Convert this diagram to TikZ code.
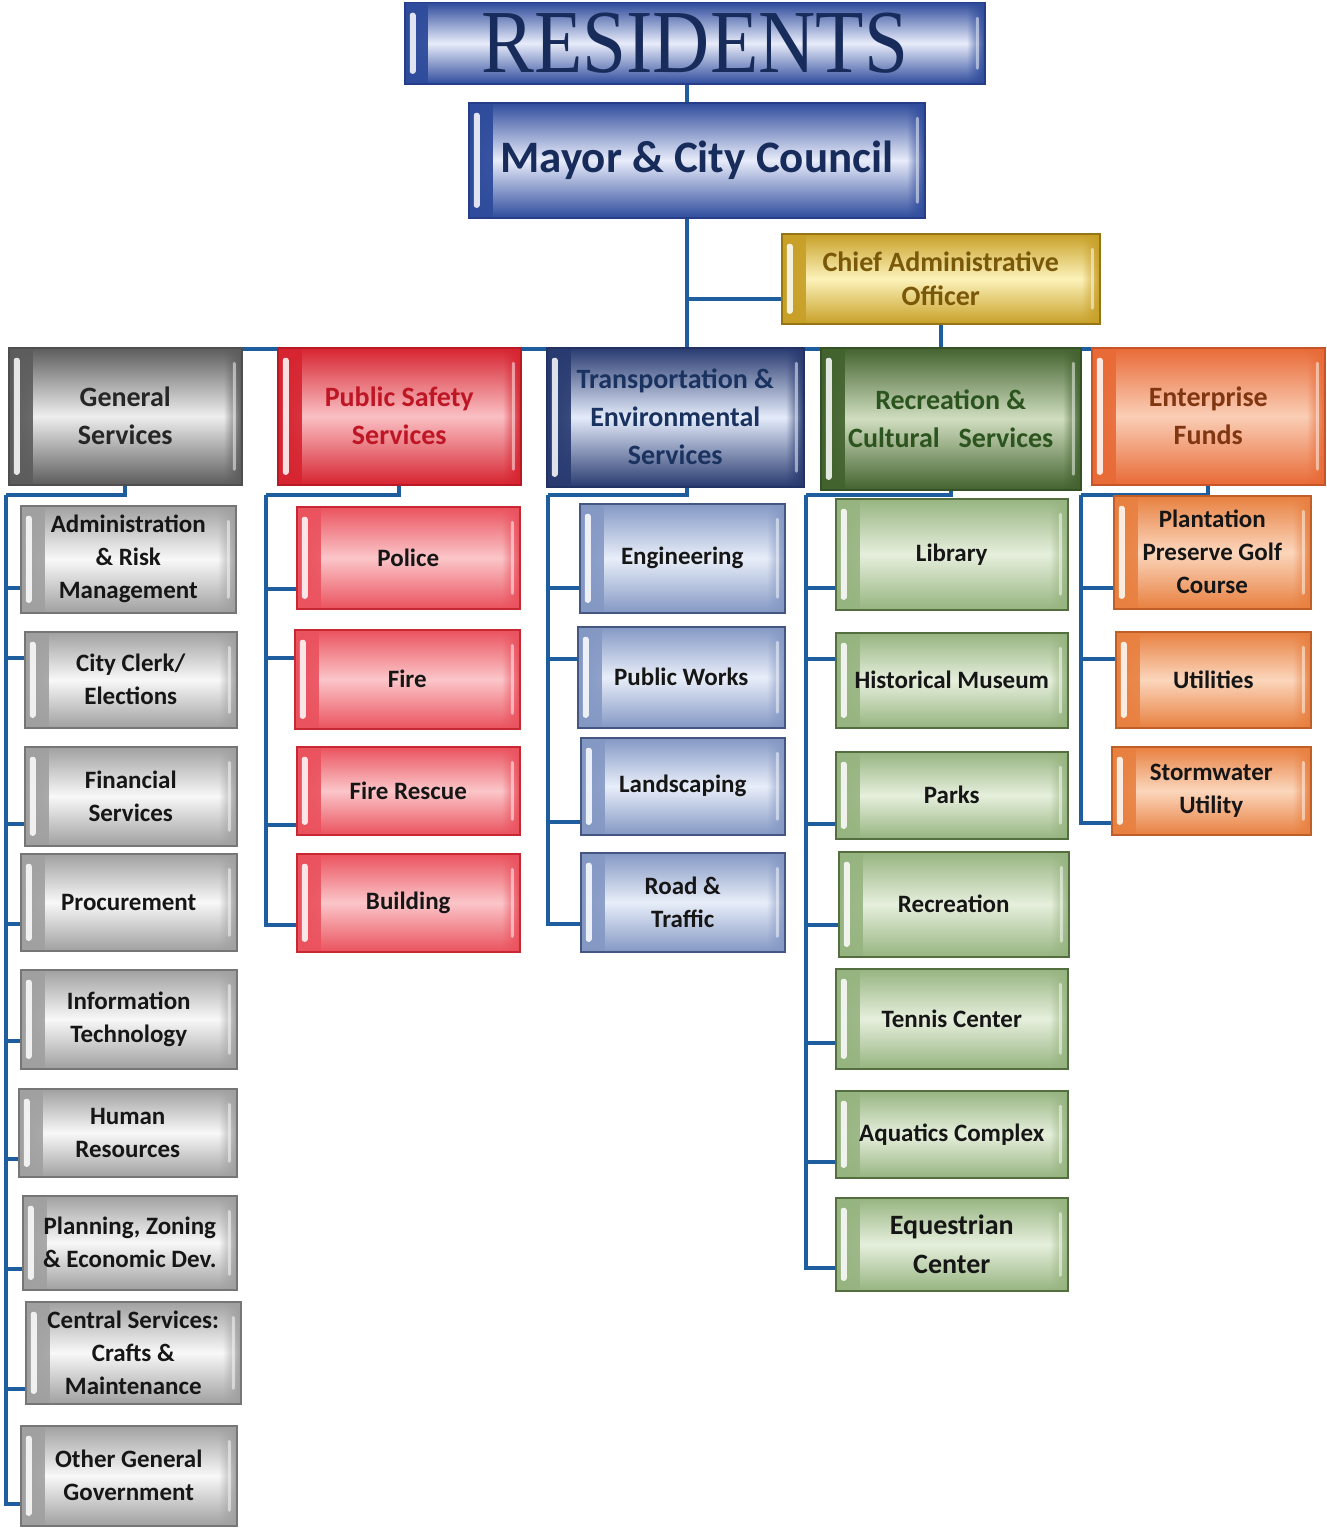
\documentclass[tikz,border=0pt]{standalone}
\usepackage{fontspec}
\usepackage{graphicx}
\setmainfont{Carlito}
\newfontfamily\resfont{Liberation Serif}
\usetikzlibrary{calc,fadings,backgrounds}

\definecolor{wireblue}{RGB}{31,94,158}
\definecolor{navytext}{RGB}{24,44,92}
\definecolor{topD}{RGB}{47,76,156}    \definecolor{topL}{RGB}{232,236,250}  \definecolor{topB}{RGB}{38,62,138}
\definecolor{caoD}{RGB}{200,160,40}   \definecolor{caoL}{RGB}{252,242,185}  \definecolor{caoB}{RGB}{150,118,20}
\definecolor{gsD}{RGB}{92,92,92}      \definecolor{gsL}{RGB}{238,238,238}   \definecolor{gsB}{RGB}{78,78,78}
\definecolor{psD}{RGB}{214,36,48}     \definecolor{psL}{RGB}{250,192,196}   \definecolor{psB}{RGB}{185,25,35}
\definecolor{teD}{RGB}{40,58,112}     \definecolor{teL}{RGB}{228,235,250}   \definecolor{teB}{RGB}{34,50,98}
\definecolor{rcD}{RGB}{66,98,46}      \definecolor{rcL}{RGB}{208,222,192}   \definecolor{rcB}{RGB}{52,82,38}
\definecolor{efD}{RGB}{232,106,54}    \definecolor{efL}{RGB}{250,206,182}   \definecolor{efB}{RGB}{198,84,40}
\definecolor{gsubD}{RGB}{160,160,160} \definecolor{gsubL}{RGB}{248,248,248} \definecolor{gsubB}{RGB}{118,118,118}
\definecolor{psubD}{RGB}{234,82,94}   \definecolor{psubL}{RGB}{251,198,201} \definecolor{psubB}{RGB}{200,40,50}
\definecolor{tsubD}{RGB}{132,152,196} \definecolor{tsubL}{RGB}{232,238,249} \definecolor{tsubB}{RGB}{70,86,130}
\definecolor{rsubD}{RGB}{150,180,128} \definecolor{rsubL}{RGB}{230,239,220} \definecolor{rsubB}{RGB}{84,110,64}
\definecolor{esubD}{RGB}{232,128,64}  \definecolor{esubL}{RGB}{251,214,188} \definecolor{esubB}{RGB}{192,94,40}

\tikzset{
  wire/.style={draw=wireblue, line width=4pt},
  bevel/.style n args={3}{anchor=north west, inner sep=0pt, align=center, draw=#3, line width=1.5pt,
    top color=#1, bottom color=#1, middle color=#2,
    path picture={
      \fill[#1, path fading=east] (path picture bounding box.south west) rectangle ([xshift=24pt]path picture bounding box.north west);
      \fill[#1, path fading=west] ([xshift=-18pt]path picture bounding box.south east) rectangle (path picture bounding box.north east);
      \fill[white, opacity=.85, rounded corners=2.5pt] ([xshift=5pt,yshift=10pt]path picture bounding box.south west) rectangle ([xshift=11pt,yshift=-10pt]path picture bounding box.north west);
      \fill[white, opacity=.5, rounded corners=1.5pt] ([xshift=-9pt,yshift=14pt]path picture bounding box.south east) rectangle ([xshift=-6pt,yshift=-14pt]path picture bounding box.north east);
    }},
  topbox/.style={bevel={topD}{topL}{topB}, text=navytext},
  caobox/.style={bevel={caoD}{caoL}{caoB}, text={rgb,255:red,122;green,88;blue,10}, font=\fontsize{28}{34}\selectfont\bfseries},
  cat/.style={font=\fontsize{28}{38}\selectfont\bfseries},
  sub/.style={font=\fontsize{25}{33}\selectfont\bfseries, text={rgb,255:red,22;green,22;blue,22}},
  gscat/.style={bevel={gsD}{gsL}{gsB}, cat, text={rgb,255:red,38;green,38;blue,38}},
  pscat/.style={bevel={psD}{psL}{psB}, cat, text={rgb,255:red,190;green,22;blue,36}},
  tecat/.style={bevel={teD}{teL}{teB}, cat, text={rgb,255:red,26;green,50;blue,96}},
  rccat/.style={bevel={rcD}{rcL}{rcB}, cat, text={rgb,255:red,44;green,84;blue,30}},
  efcat/.style={bevel={efD}{efL}{efB}, cat, text={rgb,255:red,128;green,54;blue,16}},
  gsub/.style={bevel={gsubD}{gsubL}{gsubB}, sub},
  psub/.style={bevel={psubD}{psubL}{psubB}, sub},
  tsub/.style={bevel={tsubD}{tsubL}{tsubB}, sub},
  rsub/.style={bevel={rsubD}{rsubL}{rsubB}, sub},
  esub/.style={bevel={esubD}{esubL}{esubB}, sub},
}

\begin{document}
\begin{tikzpicture}[x=1pt, y=-1pt]
\useasboundingbox (0,0) rectangle (1326,1528);

% top of the chart
\node[topbox, minimum width=580pt, minimum height=81pt, font=\resfont\fontsize{90}{90}\selectfont] (res) at (404,2) {\scalebox{0.88}[1]{RESIDENTS}};
\node[topbox, minimum width=456pt, minimum height=115pt, font=\fontsize{45}{50}\selectfont\bfseries] (mayor) at (468,102) {Mayor \& City Council};
\node[caobox, minimum width=318pt, minimum height=90pt] (cao) at (781,233) {Chief Administrative\\ Officer};

% departments
\node[gscat, minimum width=233pt, minimum height=137pt] (gs) at (8,347) {General\\ Services};
\node[pscat, minimum width=243pt, minimum height=137pt] (ps) at (277,347) {Public Safety\\ Services};
\node[tecat, minimum width=257pt, minimum height=139pt] (te) at (546,347) {Transportation \&\\ Environmental\\ Services};
\node[rccat, minimum width=260pt, minimum height=142pt] (rc) at (820,347) {Recreation \&\\ Cultural~~~Services};
\node[efcat, minimum width=233pt, minimum height=137pt] (ef) at (1091,347) {Enterprise\\ Funds};

% general services
\node[gsub, minimum width=215pt, minimum height=107pt] (adm) at (20,505) {Administration\\ \& Risk\\ Management};
\node[gsub, minimum width=212pt, minimum height=96pt] (clerk) at (24,631) {City Clerk/\\ Elections};
\node[gsub, minimum width=212pt, minimum height=99pt] (fin) at (24,746) {Financial\\ Services};
\node[gsub, minimum width=216pt, minimum height=97pt] (proc) at (20,853) {Procurement};
\node[gsub, minimum width=216pt, minimum height=99pt] (it) at (20,969) {Information\\ Technology};
\node[gsub, minimum width=218pt, minimum height=88pt] (hr) at (18,1088) {Human\\ Resources};
\node[gsub, minimum width=214pt, minimum height=94pt] (plan) at (22,1195) {Planning, Zoning\\ \& Economic Dev.};
\node[gsub, minimum width=215pt, minimum height=102pt] (cent) at (25,1301) {Central Services:\\ Crafts \&\\ Maintenance};
\node[gsub, minimum width=216pt, minimum height=100pt] (oth) at (20,1425) {Other General\\ Government};

% public safety
\node[psub, minimum width=223pt, minimum height=102pt] (pol) at (296,506) {Police};
\node[psub, minimum width=225pt, minimum height=99pt] (fire) at (294,629) {Fire};
\node[psub, minimum width=223pt, minimum height=88pt] (resc) at (296,746) {Fire Rescue};
\node[psub, minimum width=223pt, minimum height=98pt] (bld) at (296,853) {Building};

% transportation
\node[tsub, minimum width=205pt, minimum height=109pt] (eng) at (579,503) {Engineering};
\node[tsub, minimum width=207pt, minimum height=101pt] (pw) at (577,626) {Public Works};
\node[tsub, minimum width=204pt, minimum height=97pt] (land) at (580,737) {Landscaping};
\node[tsub, minimum width=204pt, minimum height=99pt] (road) at (580,852) {Road \&\\ Traffic};

% recreation
\node[rsub, minimum width=232pt, minimum height=111pt] (lib) at (835,498) {Library};
\node[rsub, minimum width=232pt, minimum height=95pt] (hist) at (835,632) {Historical Museum};
\node[rsub, minimum width=232pt, minimum height=87pt] (parks) at (835,751) {Parks};
\node[rsub, minimum width=230pt, minimum height=105pt] (recr) at (838,851) {Recreation};
\node[rsub, minimum width=232pt, minimum height=100pt] (ten) at (835,968) {Tennis Center};
\node[rsub, minimum width=232pt, minimum height=87pt] (aqua) at (835,1090) {Aquatics Complex};
\node[rsub, minimum width=232pt, minimum height=93pt, font=\fontsize{28}{39}\selectfont\bfseries] (eq) at (835,1197) {Equestrian\\ Center};

% enterprise funds
\node[esub, minimum width=197pt, minimum height=113pt] (plant) at (1113,495) {Plantation\\ Preserve Golf\\ Course};
\node[esub, minimum width=195pt, minimum height=96pt] (util) at (1115,631) {Utilities};
\node[esub, minimum width=199pt, minimum height=88pt] (storm) at (1111,746) {Stormwater\\ Utility};

\begin{scope}[on background layer]
\fill[white] (0,0) rectangle (1326,1528);
\coordinate (spine) at (687,349);
\coordinate (caoin) at ([yshift=-20pt]cao.west);
\draw[wire] (res.south -| spine) -- (mayor.north -| spine);
\draw[wire] (mayor.south -| spine) -- (spine);
\draw[wire] (caoin) -- (caoin -| spine);
\draw[wire] (cao.south) -- (cao.south |- spine);
\draw[wire] (gs.north |- spine) -- (ef.north |- spine);

\coordinate (gsrail) at (6,495);
\coordinate (psrail) at (266,495);
\coordinate (terail) at (548,495);
\coordinate (rcrail) at (806,495);
\coordinate (efrail) at (1081,495);
\draw[wire] (gs.south) |- (gsrail);
\draw[wire] (ps.south) |- (psrail);
\draw[wire] (te.south -| spine) |- (terail);
\draw[wire] (rc.south) |- (rcrail);
\draw[wire] (ef.south) |- (efrail);

\draw[wire] ($(adm.west)+(0,29)$) -| (gsrail);
\draw[wire] ($(clerk.west)+(0,-22)$) -| (gsrail);
\draw[wire] ($(fin.west)+(0,28)$) -| (gsrail);
\draw[wire] ($(proc.west)+(0,22)$) -| (gsrail);
\draw[wire] ($(it.west)+(0,22)$) -| (gsrail);
\draw[wire] ($(hr.west)+(0,26)$) -| (gsrail);
\draw[wire] ($(plan.west)+(0,26)$) -| (gsrail);
\draw[wire] ($(cent.west)+(0,36)$) -| (gsrail);
\draw[wire] ($(oth.west)+(0,28)$) -| (gsrail);

\draw[wire] ($(pol.west)+(0,31)$) -| (psrail);
\draw[wire] ($(fire.west)+(0,-21)$) -| (psrail);
\draw[wire] ($(resc.west)+(0,34)$) -| (psrail);
\draw[wire] ($(bld.west)+(0,22)$) -| (psrail);

\draw[wire] ($(eng.west)+(0,30)$) -| (terail);
\draw[wire] ($(pw.west)+(0,-18)$) -| (terail);
\draw[wire] ($(land.west)+(0,36)$) -| (terail);
\draw[wire] ($(road.west)+(0,22)$) -| (terail);

\draw[wire] ($(lib.west)+(0,34)$) -| (rcrail);
\draw[wire] ($(hist.west)+(0,-21)$) -| (rcrail);
\draw[wire] ($(parks.west)+(0,29)$) -| (rcrail);
\draw[wire] ($(recr.west)+(0,21)$) -| (rcrail);
\draw[wire] ($(ten.west)+(0,24)$) -| (rcrail);
\draw[wire] ($(aqua.west)+(0,28)$) -| (rcrail);
\draw[wire] ($(eq.west)+(0,24)$) -| (rcrail);

\draw[wire] ($(plant.west)+(0,36)$) -| (efrail);
\draw[wire] ($(util.west)+(0,-21)$) -| (efrail);
\draw[wire] ($(storm.west)+(0,32)$) -| (efrail);
\end{scope}
\end{tikzpicture}
\end{document}
